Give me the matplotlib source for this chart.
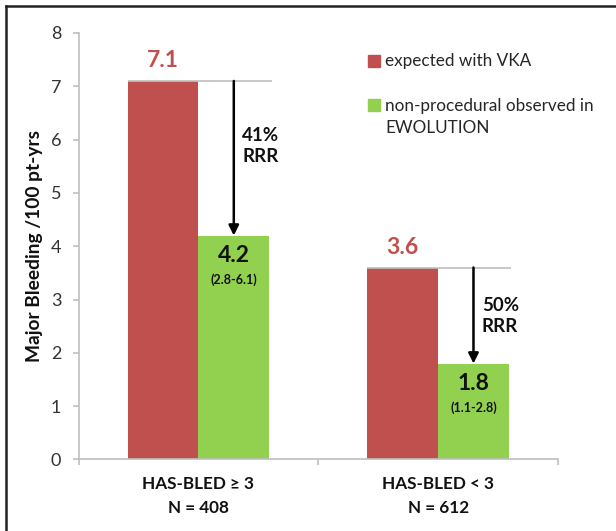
import numpy as np
import matplotlib.pyplot as plt
from matplotlib.lines import Line2D

plt.rcParams['font.family'] = ['Lato', 'DejaVu Sans']

# data
groups = ['HAS-BLED \u2265 3\nN = 408', 'HAS-BLED < 3\nN = 612']
expected_vka = [7.1, 3.6]
observed = [4.2, 1.8]
observed_ci = ['(2.8-6.1)', '(1.1-2.8)']
series_labels = ['expected with VKA', 'non-procedural observed in\nEWOLUTION']

red = '#C0504D'
green = '#92D050'
grey = '#BFBFBF'

fig = plt.figure(figsize=(6.16, 5.31), dpi=100)
ax = fig.add_axes([0.1276, 0.1347, 0.7782, 0.8032])

x = np.arange(len(groups))
w = 0.295
ax.bar(x - w / 2, expected_vka, w, color=red, label=series_labels[0])
ax.bar(x + w / 2, observed, w, color=green, label=series_labels[1])

# reference line at expected level, arrow down to observed
rrr_y = [5.88, 2.69]
for i in range(len(groups)):
    ax.hlines(expected_vka[i], x[i] - w, x[i] + w + 0.01, color=grey, lw=1.2, zorder=1)
    ax.annotate('', xy=(x[i] + w / 2, observed[i]), xytext=(x[i] + w / 2, expected_vka[i]),
                arrowprops=dict(arrowstyle='-|>', color='black', lw=1.8, mutation_scale=15,
                                shrinkA=0, shrinkB=0))
    rrr = round((expected_vka[i] - observed[i]) / expected_vka[i] * 100)
    ax.annotate(f'{rrr}%\nRRR', xy=(x[i] + w / 2, rrr_y[i]), xytext=(6, 0),
                textcoords='offset points', ha='left', va='center', fontsize=13.5,
                fontweight='bold', linespacing=1.25, color='#111111')
    # value labels
    ax.annotate(f'{expected_vka[i]:.1f}', xy=(x[i] - w / 2, expected_vka[i]), xytext=(0, 14.5),
                textcoords='offset points', ha='center', va='center', fontsize=16.5,
                fontweight='bold', color=red)
    ax.annotate(f'{observed[i]:.1f}', xy=(x[i] + w / 2, observed[i]), xytext=(0, -14.5),
                textcoords='offset points', ha='center', va='center', fontsize=16.5,
                fontweight='bold', color='#111111')
    ax.annotate(observed_ci[i], xy=(x[i] + w / 2, observed[i]), xytext=(0, -31.5),
                textcoords='offset points', ha='center', va='center', fontsize=9,
                fontweight='bold', color='#111111')

ax.set_xlim(-0.5, 1.5)
ax.set_ylim(0, 8)
ax.set_yticks(range(0, 9))
ax.set_xticks([-0.5, 0.5, 1.5])
ax.set_xticklabels([])
ax.set_xticks(x, groups, minor=True)
ax.tick_params(axis='x', which='major', length=4.5, width=1.2, color=grey)
ax.tick_params(axis='x', which='minor', length=0, pad=12, labelsize=12.3)
for lbl in ax.get_xticklabels(minor=True):
    lbl.set_fontweight('bold')
    lbl.set_linespacing(1.6)
    lbl.set_color('#111111')
ax.tick_params(axis='y', length=4.5, width=1.2, color=grey, labelsize=13,
               labelcolor='#333333', pad=8)

for s in ['top', 'right']:
    ax.spines[s].set_visible(False)
for s in ['left', 'bottom']:
    ax.spines[s].set_color(grey)
    ax.spines[s].set_linewidth(1.2)

ax.set_ylabel('Major Bleeding /100 pt-yrs', fontsize=13.8, fontweight='bold', va='center',
              color='#111111')
ax.yaxis.set_label_coords(-0.091, 0.5)

# legend
leg_y = [0.934, 0.831]
text_y = [0.934, 0.8035]
for col, ly, ty, lab in zip([red, green], leg_y, text_y, series_labels):
    ax.plot([0.617], [ly], marker='s', ms=8, color=col, transform=ax.transAxes, clip_on=False)
    ax.text(0.639, ty, lab, transform=ax.transAxes, ha='left', va='center', fontsize=12.3,
            color='#262626', linespacing=1.42)

# frame lines at the top and left
fig.add_artist(Line2D([0.0097, 1], [1 - 6 / 531, 1 - 6 / 531], color='#222222', lw=1.8))
fig.add_artist(Line2D([0.0097, 0.0097], [0, 1 - 6 / 531], color='#222222', lw=1.8))

fig.savefig('out.png', dpi=100)
